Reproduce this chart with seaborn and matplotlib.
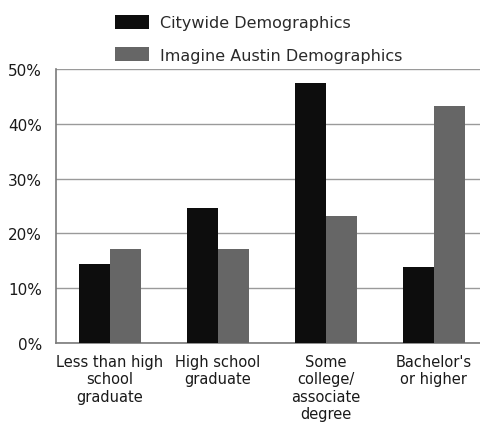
import matplotlib
matplotlib.use("Agg")
import matplotlib.pyplot as plt
import seaborn as sns
import pandas as pd

categories = ["Less than high\nschool\ngraduate", "High school\ngraduate",
              "Some\ncollege/\nassociate\ndegree", "Bachelor's\nor higher"]
series_names = ["Citywide Demographics", "Imagine Austin Demographics"]
citywide = [14.4, 24.6, 47.4, 13.9]
imagine_austin = [17.2, 17.2, 23.2, 43.2]
y_ticks = [0, 10, 20, 30, 40, 50]

df = pd.DataFrame({
    "category": categories * 2,
    "series": [series_names[0]] * 4 + [series_names[1]] * 4,
    "value": citywide + imagine_austin,
})

sns.set_style("white")
plt.rcParams["font.family"] = ["DejaVu Sans"]

fig = plt.figure(figsize=(4.81, 4.31), dpi=100)
ax = fig.add_axes([0.1164, 0.2019, 0.898, 0.6357])

sns.barplot(data=df, x="category", y="value", hue="series",
            palette=["#0d0d0d", "#666666"], width=0.57, ax=ax,
            saturation=1, zorder=3, linewidth=0, edgecolor="none")

ax.set_ylim(0, 50)
ax.set_xlim(-0.5, 3.5)
ax.set_yticks(y_ticks)
ax.set_yticklabels([f"{t}%" for t in y_ticks], fontsize=11, color="#1a1a1a")
ax.tick_params(axis="x", labelsize=10.5, length=0, pad=8, labelcolor="#1a1a1a")
ax.tick_params(axis="y", length=0, pad=10)
ax.grid(axis="y", color="#9a9a9a", linewidth=1, zorder=0)
for side in ["top", "right"]:
    ax.spines[side].set_visible(False)
for side in ["left", "bottom"]:
    ax.spines[side].set_color("#7a7a7a")
    ax.spines[side].set_linewidth(1.2)
ax.set_xlabel("")
ax.set_ylabel("")

handles, labels = ax.get_legend_handles_labels()
ax.legend_.remove()
fig.legend(handles, labels, loc="upper left", bbox_to_anchor=(0.21, 0.997),
           frameon=False, fontsize=11.5, handlelength=2.1, handleheight=1.0,
           labelspacing=1.05, handletextpad=0.7, labelcolor="#2a2a2a")

fig.savefig("out.png", dpi=100)
